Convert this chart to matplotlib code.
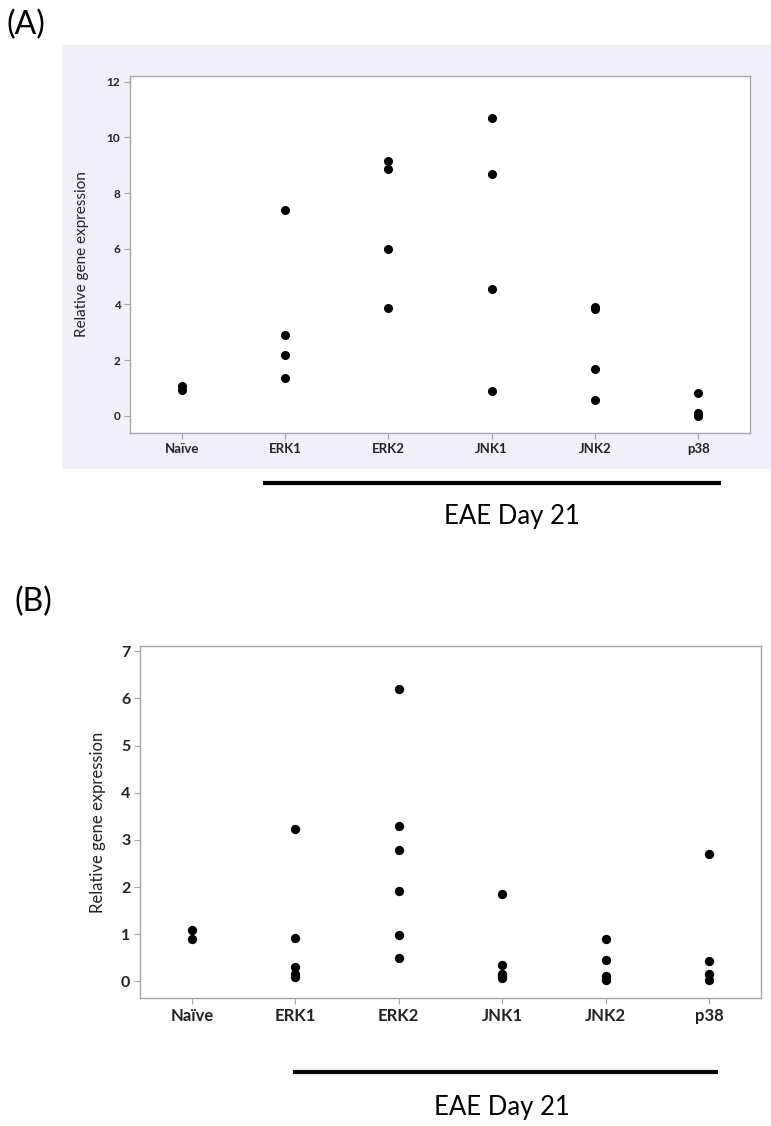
import matplotlib
matplotlib.use("Agg")
import matplotlib.pyplot as plt
import matplotlib.transforms as mtransforms
from matplotlib.patches import Rectangle

plt.rcParams['font.family'] = ['Lato', 'DejaVu Sans']

groups = ["Naïve", "ERK1", "ERK2", "JNK1", "JNK2", "p38"]

# panel A values
a_naive = [1.08, 0.94]
a_erk1 = [7.41, 2.91, 2.19, 1.35]
a_erk2 = [9.15, 8.85, 5.99, 3.87]
a_jnk1 = [10.70, 8.69, 4.56, 0.87]
a_jnk2 = [3.92, 3.85, 1.67, 0.56]
a_p38 = [0.81, 0.10, 0.04, 0.0]

# panel B values
b_naive = [1.10, 0.91]
b_erk1 = [3.23, 0.93, 0.30, 0.15, 0.09]
b_erk2 = [6.19, 3.30, 2.78, 1.91, 0.99, 0.50]
b_jnk1 = [1.85, 0.35, 0.16, 0.11, 0.07]
b_jnk2 = [0.91, 0.46, 0.11, 0.06, 0.03]
b_p38 = [2.70, 0.44, 0.16, 0.04]

a_ticks = [0, 2, 4, 6, 8, 10, 12]
b_ticks = [0, 1, 2, 3, 4, 5, 6, 7]

frame_col = "#a6a6a6"

fig = plt.figure(figsize=(7.71, 11.26), dpi=100)
fig.patch.set_facecolor("white")

# lavender panel behind A
fig.add_artist(Rectangle((0.0804, 0.5835), 0.9196, 0.3766, transform=fig.transFigure,
                         facecolor="#f1eff9", edgecolor="none", zorder=0))


def dot_panel(ax, data, ticks, ylim, tick_fs, x_fs, lab_fs, ms):
    for i, vals in enumerate(data):
        ax.plot([i] * len(vals), vals, 'o', color="black", ms=ms, mec="black", zorder=3)
    ax.set_xlim(-0.5, 5.5)
    ax.set_ylim(*ylim)
    ax.set_xticks(range(len(groups)))
    ax.set_xticklabels(groups, fontsize=x_fs, fontweight="bold", color="#222222")
    ax.set_yticks(ticks)
    ax.set_yticklabels([str(t) for t in ticks], fontsize=tick_fs, fontweight="bold", color="#222222")
    ax.set_ylabel("Relative gene expression", fontsize=lab_fs, color="#222222")
    for s in ax.spines.values():
        s.set_color(frame_col)
        s.set_linewidth(1.0)
    ax.tick_params(axis="both", color=frame_col, length=4, width=0.8, pad=3)
    ax.set_facecolor("white")


axA = fig.add_axes([0.1686, 0.6155, 0.8042, 0.3170])
dot_panel(axA, [a_naive, a_erk1, a_erk2, a_jnk1, a_jnk2, a_p38], a_ticks, (-0.62, 12.21),
          8.5, 9.5, 11, 5.5)
axA.yaxis.labelpad = 13

axB = fig.add_axes([0.1816, 0.1137, 0.8054, 0.3126])
dot_panel(axB, [b_naive, b_erk1, b_erk2, b_jnk1, b_jnk2, b_p38], b_ticks, (-0.35, 7.11),
          11.5, 12, 12, 5.7)
axB.yaxis.labelpad = 11

# bars under the groups, x in data units, y in figure units
trA = mtransforms.blended_transform_factory(axA.transData, fig.transFigure)
axA.plot([0.79, 5.22], [1 - 483 / 1126] * 2, color="black", lw=3, transform=trA,
         clip_on=False, solid_capstyle="butt")
axA.text(3.2, 1 - 517 / 1126, "EAE Day 21", transform=trA, ha="center", va="center",
         fontsize=18.5, color="black")

trB = mtransforms.blended_transform_factory(axB.transData, fig.transFigure)
axB.plot([0.98, 5.08], [1 - 1072 / 1126] * 2, color="black", lw=3, transform=trB,
         clip_on=False, solid_capstyle="butt")
axB.text(3.0, 1 - 1108 / 1126, "EAE Day 21", transform=trB, ha="center", va="center",
         fontsize=18.5, color="black")

fig.text(7 / 771, 1 - 25 / 1126, "(A)", fontsize=23, ha="left", va="center")
fig.text(14 / 771, 1 - 602 / 1126, "(B)", fontsize=23, ha="left", va="center")

fig.savefig("out.png", dpi=100)
